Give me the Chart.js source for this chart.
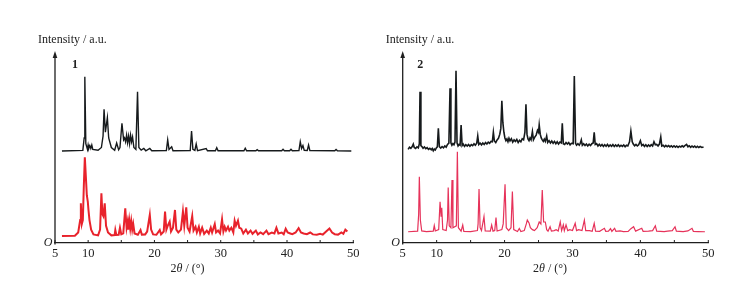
<!DOCTYPE html>
<html><head><meta charset="utf-8">
<script src="https://cdn.jsdelivr.net/npm/chart.js@4"></script>
<style>
html,body{margin:0;padding:0;background:#fff;}
#wrap{position:relative;width:744px;height:282px;}
canvas{position:absolute;top:0;}
</style></head><body>
<div id="wrap"><canvas id="c1" width="372" height="282" style="left:0"></canvas><canvas id="c2" width="372" height="282" style="left:372px"></canvas></div>
<script>
// x ticks
const xTicks = [5,10,15,20,25,30,35,40,45,50];

// Panel 1, experimental (black)
const p1BlackX = [6.05,9.2,9.4,9.5,9.65,9.9,10.0,10.1,10.25,10.4,10.55,10.7,11.5,12.0,12.25,12.4,12.6,12.9,13.1,13.5,14.0,14.3,14.6,14.8,15.1,15.35,15.5,15.65,15.8,15.95,16.1,16.25,16.4,16.55,16.7,16.9,17.2,17.45,17.65,18.0,18.4,18.7,19.3,19.6,21.8,22.0,22.2,22.6,22.8,25.4,25.6,25.8,26.1,26.3,26.5,27.8,28.0,29.2,29.4,29.6,33.5,33.7,33.9,35.3,35.5,35.7,39.2,39.4,39.6,40.4,40.6,40.8,41.8,42.0,42.2,42.4,42.6,43.05,43.25,43.45,47.2,47.4,47.6,49.7];
const p1BlackY = [48.2,48.5,55,87,52,49,51.3,49.5,51,49.5,51.3,49,48.6,50,56,70,58,65.6,55,50,48.6,52.3,48.8,50,62.7,54,55,53,56.5,52.5,56,52,56.5,53,55.5,50,49,79.2,50,48.6,49.5,48.3,49.5,48.3,48.4,54,49,50.4,48.3,48.4,58.6,49,48.5,51.8,48.4,49.5,48.3,48.3,49.9,48.3,48.3,49.6,48.3,48.3,48.9,48.3,48.3,49.1,48.3,48.3,49.1,48.3,48.4,53,49.5,51,48.5,48.4,51.3,48.4,48.3,49,48.3,48.2];

// Panel 1, simulated (red)
const p1RedX = [6.05,8.0,8.5,8.8,8.9,9.05,9.2,9.35,9.5,9.65,9.8,9.95,10.05,10.2,10.45,10.8,11.5,11.8,12.0,12.15,12.3,12.5,12.7,13.0,13.5,14.0,14.1,14.25,14.6,14.8,15.0,15.3,15.6,15.8,15.95,16.05,16.2,16.35,16.5,16.65,16.8,17.0,17.5,17.9,18.1,18.6,18.9,19.3,19.5,19.8,20.3,20.8,21.0,21.4,21.6,21.8,22.0,22.3,22.5,22.8,23.1,23.3,23.6,24.0,24.3,24.5,24.8,25.0,25.3,25.7,25.9,26.2,26.4,26.7,26.9,27.2,27.5,27.9,28.2,28.5,28.7,29.1,29.3,29.6,29.9,30.2,30.4,30.6,30.8,31.1,31.3,31.6,31.9,32.1,32.3,32.6,32.8,33.1,33.4,33.8,34.1,34.5,34.8,35.3,35.6,36.0,36.4,36.9,37.2,37.7,38.1,38.4,38.7,39.2,39.5,39.8,40.1,40.5,40.8,41.3,41.75,42.1,42.5,43.0,43.5,43.9,44.5,45.0,45.4,45.9,46.4,46.8,47.2,47.7,48.2,48.5,48.8,49.1];
const p1RedY = [3.7,3.8,5.5,12,20.8,10,12,30,44.9,35,25,21.6,17.3,12,7,4.5,4,7,26,15,14,20.8,9,5.5,4,4.2,6.8,4.2,4.3,8,4.5,5,18.2,8,11,7,12,7.5,11.5,7,10,5,4.3,6.8,4.4,4.5,6,14.7,7,4.5,4.3,6.8,4.5,6,16.4,7,9,11.2,6,8,17.3,7,5.5,7,16.4,9,18.7,8,6,14.1,6.5,8.5,5.5,8.5,5,8,4.8,6.5,5,8,5.5,9.9,5.5,6.5,5,12.4,6,8.5,6.5,8.5,6.5,8,5.5,11.7,9,11.7,8,7.5,5,7,5,6.5,4.8,6.5,4.5,5.5,4.6,6.5,4.6,5.5,5,8,5,5.5,4.6,7.5,5.5,5,4.6,5.5,7.8,5.5,5,4.6,5.5,4.5,4.3,4.8,4.4,6,7.6,5.5,4.6,4.4,5.5,4.8,7,6];

// Panel 2, experimental (black), [2θ, intensity] pairs
const p2Black = [[5.8,49.0],[6.0,50.2],[6.2,49.6],[6.4,50.5],[6.56,51.8],[6.7,50.0],[6.9,49.5],[7.1,50.3],[7.3,49.8],[7.45,52],[7.55,79.2],[7.68,51],[7.85,50.4],[8.0,49.6],[8.2,50.3],[8.4,49.4],[8.6,49.9],[8.8,49.0],[9.0,49.6],[9.2,48.8],[9.35,49.5],[9.5,48.3],[9.65,49.2],[9.8,48.7],[9.95,49.8],[10.1,50.3],[10.25,60],[10.4,50.4],[10.6,49.7],[10.8,50.5],[11.0,49.8],[11.2,50.8],[11.4,50.2],[11.6,51.6],[11.8,52.3],[11.97,81],[12.1,52.5],[12.25,51.2],[12.4,52],[12.55,51.4],[12.7,52.8],[12.85,90.2],[13.0,52.4],[13.15,50.8],[13.3,51.6],[13.45,51.2],[13.6,61.8],[13.75,51],[13.9,51.8],[14.1,50.6],[14.3,51.5],[14.5,50.8],[14.7,51.6],[14.9,50.7],[15.1,51.5],[15.3,51],[15.5,52],[15.7,51.2],[15.9,52.2],[16.05,56],[16.2,51.6],[16.4,52.3],[16.6,51.4],[16.8,52.4],[17.0,51.6],[17.2,52.6],[17.4,51.8],[17.6,52.8],[17.8,52.2],[18.0,53.2],[18.2,53],[18.35,58],[18.5,53.4],[18.7,52.6],[18.9,54],[19.1,54.8],[19.3,57],[19.45,60],[19.6,74.5],[19.75,63],[19.9,58],[20.05,55],[20.2,53.6],[20.35,54.5],[20.5,53],[20.65,54.8],[20.8,53.4],[21.0,54.6],[21.2,52.8],[21.4,54],[21.6,53.2],[21.8,54.2],[22.0,52.6],[22.2,53.8],[22.4,53],[22.6,54.6],[22.8,54],[23.0,58],[23.15,72.6],[23.3,57],[23.45,54.5],[23.6,53.6],[23.75,55],[23.9,54],[24.1,58.3],[24.25,54],[24.45,55.4],[24.65,56.5],[24.85,59],[25.0,58],[25.1,61.8],[25.25,57],[25.4,55],[25.55,54],[25.7,53.2],[25.85,54.4],[26.0,53.2],[26.2,56],[26.35,52.6],[26.55,53.6],[26.75,52.4],[26.95,53.4],[27.15,52.2],[27.35,53.2],[27.55,52],[27.75,53],[27.95,51.8],[28.15,52.8],[28.35,52.4],[28.5,62.7],[28.65,52],[28.85,51.6],[29.05,52.6],[29.25,51.8],[29.45,52.6],[29.65,51.4],[29.85,52.2],[30.1,52],[30.27,87.4],[30.45,52.2],[30.6,51.2],[30.8,52],[31.0,51.2],[31.15,52.2],[31.3,54],[31.45,51.2],[31.65,52],[31.85,51],[32.05,51.8],[32.25,50.8],[32.45,51.7],[32.65,51],[32.85,52],[33.05,52.4],[33.2,58],[33.35,51.6],[33.55,52],[33.75,50.8],[33.95,51.7],[34.15,50.8],[34.35,51.6],[34.55,50.6],[34.75,51.5],[34.95,50.7],[35.15,51.6],[35.35,50.5],[35.55,51.3],[35.75,50.6],[35.95,51.5],[36.15,50.5],[36.35,51.3],[36.55,50.6],[36.75,51.4],[36.95,50.5],[37.15,51.2],[37.35,50.6],[37.55,51.3],[37.75,50.4],[37.95,51.2],[38.15,50.8],[38.4,53],[38.6,58.6],[38.8,53],[38.95,51.8],[39.15,50.9],[39.35,51.6],[39.55,50.8],[39.75,51.4],[40.0,53.6],[40.2,51],[40.4,51.6],[40.6,50.6],[40.8,51.4],[41.0,50.5],[41.2,51.3],[41.4,50.6],[41.6,51.5],[41.8,50.8],[42.0,53],[42.2,51.4],[42.4,51.6],[42.6,50.8],[42.8,51.8],[43.0,55.6],[43.15,50.8],[43.35,51.2],[43.55,50.4],[43.75,51.1],[43.95,50.4],[44.15,51],[44.35,50.3],[44.55,50.9],[44.75,50.2],[44.95,50.9],[45.15,50.2],[45.35,50.8],[45.55,50.1],[45.75,50.7],[45.95,50.3],[46.15,50.9],[46.35,50.3],[46.55,51],[46.8,51.6],[47.0,50.4],[47.2,50.9],[47.4,50.1],[47.6,50.8],[47.8,50.2],[48.0,50.7],[48.2,50],[48.4,50.6],[48.6,50],[48.8,50.5],[49.05,50],[49.3,50.3]];

// Panel 2, simulated (red)
const p2RedX = [5.8,7.2,7.35,7.45,7.6,7.8,8.5,9.5,9.65,9.8,10.3,10.5,10.65,10.75,10.9,11.4,11.6,11.7,11.85,12.1,12.26,12.4,12.9,13.05,13.2,13.6,13.84,14.0,15.0,16.0,16.1,16.24,16.4,16.6,16.97,17.15,17.9,18.1,18.3,18.55,18.74,18.9,19.6,19.8,20.07,20.25,20.6,20.95,21.15,21.35,21.9,22.17,22.4,22.9,23.2,23.35,23.6,23.8,24.1,24.4,24.8,25.1,25.35,25.55,25.75,26.0,26.2,26.4,26.7,26.9,27.3,27.6,27.9,28.2,28.4,28.65,28.8,29.05,29.3,29.6,30.0,30.4,30.6,30.9,31.4,31.75,31.95,32.5,32.9,33.2,33.4,34.0,34.7,34.9,35.3,35.6,35.8,36.2,36.4,37.0,37.5,38.2,38.6,39.0,39.3,40.2,40.4,41.2,41.8,42.2,42.4,43.5,44.0,44.7,45.1,45.3,46.3,47.0,47.6,47.8,48.5,49.5];
const p2RedY = [5.9,6.2,15,34.7,12,6.3,6,6.2,9.1,6.3,7,21.6,14,18.4,7,6.5,12,29,9,8,33,8,9,47.8,8,6.2,9.4,6.1,6,6.5,10,28.3,8,6.5,13.8,6.3,6.2,9.4,6.2,6.5,13.3,6.3,7,10,30.7,8,6.5,8,26.9,7,6,7.6,6,6.5,10,12,10.5,8,7,6.5,8,11,10,27.7,11,11,7,6.2,8.5,6.2,6.5,7,6.3,11,6.5,9.5,6.5,9.5,6.5,7,6.5,10.3,6.5,7,6.5,12,6.5,6.5,6.1,10.3,6.2,6.1,7.7,6.1,6.2,7.5,6.1,7.7,6.1,6.3,6,6.1,7.5,8.5,6.2,7.7,6.1,6.2,6.5,9,6.2,6,6.2,6.5,8.5,6.2,6,6.3,7.7,6.1,6,5.9];

const pts = (xs, ys) => xs.map((x, i) => ({x, y: ys[i]}));
const pairs = arr => arr.map(p => ({x: p[0], y: p[1]}));
const SERIF = '"Liberation Serif","DejaVu Serif",serif';

const deco = {
  id: 'deco',
  afterDraw(chart, args, o) {
    const {ctx, chartArea: a, scales: {x}} = chart;
    ctx.save();
    ctx.strokeStyle = '#1e1e1e';
    ctx.fillStyle = '#1e1e1e';
    ctx.lineWidth = 1.3;
    ctx.beginPath();
    ctx.moveTo(a.left, a.bottom + 1.5);
    ctx.lineTo(a.left, a.top + 4);
    ctx.stroke();
    ctx.beginPath();
    ctx.moveTo(a.left, a.top - 1);
    ctx.lineTo(a.left - 2.3, a.top + 6);
    ctx.lineTo(a.left + 2.3, a.top + 6);
    ctx.closePath();
    ctx.fill();
    ctx.lineWidth = 1;
    ctx.beginPath();
    x.ticks.forEach(t => {
      const px = x.getPixelForValue(t.value);
      ctx.moveTo(px, a.bottom);
      ctx.lineTo(px, a.bottom - 3);
    });
    ctx.stroke();
    ctx.fillStyle = '#222';
    ctx.textBaseline = 'middle';
    ctx.textAlign = 'left';
    ctx.font = '12px ' + SERIF;
    ctx.fillText('Intensity / a.u.', a.left - 17, 40);
    ctx.font = 'bold 12px ' + SERIF;
    ctx.fillText(o.num, a.left + o.numDx, 64.5);
    ctx.font = 'italic 12px ' + SERIF;
    ctx.textAlign = 'center';
    ctx.fillText('O', a.left - 7, a.bottom);
    const parts = [['2', '12px '], ['θ', 'italic 12px '], [' / (°)', '12px ']];
    let w = 0;
    parts.forEach(p => { ctx.font = p[1] + SERIF; w += ctx.measureText(p[0]).width; });
    let cx = o.titleX - w / 2;
    ctx.textAlign = 'left';
    parts.forEach(p => { ctx.font = p[1] + SERIF; ctx.fillText(p[0], cx, 268.5); cx += ctx.measureText(p[0]).width; });
    ctx.restore();
  }
};

function makeChart(id, black, blackWidth, red, redColor, redWidth, padL, padR, deco_opts) {
  return new Chart(document.getElementById(id), {
    type: 'line',
    data: {
      datasets: [
        {data: black, borderColor: '#161a1c', borderWidth: blackWidth, pointRadius: 0, tension: 0, fill: false},
        {data: red, borderColor: redColor, borderWidth: redWidth, pointRadius: 0, tension: 0, fill: false}
      ]
    },
    options: {
      responsive: false,
      devicePixelRatio: 1,
      animation: false,
      layout: {padding: {left: padL, right: padR, top: 52, bottom: 18}},
      plugins: {legend: {display: false}, tooltip: {enabled: false}, deco: deco_opts},
      scales: {
        x: {
          type: 'linear', min: 5, max: 50,
          afterBuildTicks: s => { s.ticks = xTicks.map(v => ({value: v})); },
          grid: {display: false, drawTicks: false},
          border: {display: true, color: '#1e1e1e', width: 1.2},
          ticks: {padding: 3, color: '#222', font: {family: SERIF, size: 12.5}, maxRotation: 0, autoSkip: false,
                  callback: v => (v % 10 === 0 || v === 5) ? String(v) : ''}
        },
        y: {display: false, min: 0, max: 100}
      }
    },
    plugins: [deco]
  });
}

makeChart('c1', pts(p1BlackX, p1BlackY), 1.4, pts(p1RedX, p1RedY), '#e8232c', 2.0, 55, 18.7, {num: '1', numDx: 17, titleX: 187.5});
makeChart('c2', pairs(p2Black), 1.6, pts(p2RedX, p2RedY), '#e6325a', 1.2, 30.7, 35.7, {num: '2', numDx: 14.5, titleX: 178});
</script>
</body></html>
